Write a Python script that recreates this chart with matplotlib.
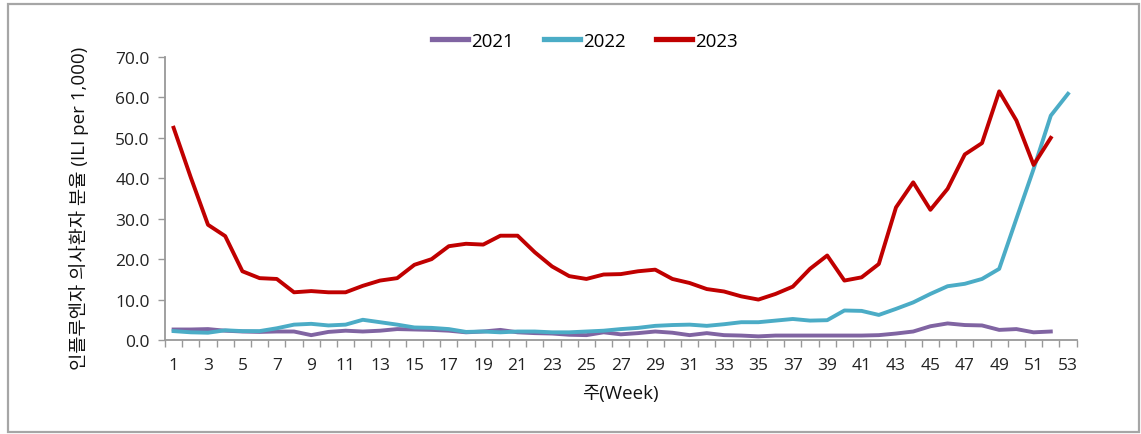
import matplotlib
matplotlib.use("Agg")
import matplotlib.pyplot as plt
from matplotlib.patches import Rectangle
import numpy as np

plt.rcParams['font.family'] = ['Open Sans', 'Noto Sans CJK KR', 'DejaVu Sans']

weeks_2021 = list(range(1, 53))
weeks_2022 = list(range(1, 54))
weeks_2023 = list(range(1, 53))

ili_2021 = [2.6, 2.6, 2.7, 2.3, 2.1, 2.0, 2.1, 2.1, 1.2, 2.0,
            2.3, 2.1, 2.3, 2.7, 2.6, 2.5, 2.3, 1.9, 2.1, 2.5,
            1.9, 1.7, 1.6, 1.3, 1.2, 1.9, 1.4, 1.7, 2.1, 1.8,
            1.2, 1.7, 1.2, 1.1, 0.9, 1.1, 1.1, 1.1, 1.1, 1.1,
            1.1, 1.2, 1.6, 2.1, 3.4, 4.1, 3.7, 3.6, 2.5, 2.7,
            1.9, 2.1]
ili_2022 = [2.2, 1.9, 1.8, 2.4, 2.2, 2.2, 2.9, 3.8, 4.0, 3.6,
            3.8, 5.0, 4.4, 3.8, 3.1, 3.0, 2.7, 2.0, 2.1, 1.9,
            2.1, 2.1, 1.9, 1.9, 2.1, 2.3, 2.7, 3.0, 3.5, 3.7,
            3.8, 3.5, 3.9, 4.4, 4.4, 4.8, 5.2, 4.8, 4.9, 7.3,
            7.2, 6.2, 7.7, 9.3, 11.4, 13.3, 13.9, 15.1, 17.6, 30.0,
            42.3, 55.5, 60.9]
ili_2023 = [52.5, 40.2, 28.5, 25.7, 17.0, 15.3, 15.1, 11.8, 12.1, 11.8,
            11.8, 13.4, 14.7, 15.3, 18.6, 20.0, 23.2, 23.8, 23.6, 25.8,
            25.8, 21.7, 18.2, 15.8, 15.1, 16.2, 16.3, 17.0, 17.4, 15.1,
            14.1, 12.6, 12.0, 10.8, 10.0, 11.4, 13.2, 17.6, 20.9, 14.7,
            15.5, 18.8, 32.8, 39.0, 32.2, 37.4, 45.9, 48.7, 61.5, 54.3,
            43.3, 50.0]

series_labels = ['2021', '2022', '2023']
colors = ['#8064A2', '#4BACC6', '#C00000']

fig = plt.figure(figsize=(11.41, 4.35), dpi=100)
ax = fig.add_axes([165/1141, (435-341)/435, (1076.6-165)/1141, (341-58)/435])

ax.plot(weeks_2021, ili_2021, color=colors[0], lw=2.8, label=series_labels[0], solid_joinstyle='round')
ax.plot(weeks_2022, ili_2022, color=colors[1], lw=2.8, label=series_labels[1], solid_joinstyle='round')
ax.plot(weeks_2023, ili_2023, color=colors[2], lw=2.8, label=series_labels[2], solid_joinstyle='round')

ax.set_xlim(0.5, 53.5)
ax.set_ylim(0, 70)
ax.set_yticks(np.arange(0, 71, 10))
ax.set_yticklabels([f"{v:.1f}" for v in np.arange(0, 71, 10)])
ax.set_xticks(list(range(1, 54, 2)))
ax.set_xticks(np.arange(0.5, 54, 1), minor=True)
ax.tick_params(axis='x', which='major', length=0, pad=12.5, labelsize=12.5, colors='#222222')
ax.tick_params(axis='x', which='minor', length=5, width=1, color='#999999', direction='out')
ax.tick_params(axis='y', which='major', length=5, width=1, color='#999999', labelsize=12.5, pad=6, labelcolor='#222222')

for s in ['top', 'right']:
    ax.spines[s].set_visible(False)
for s in ['left', 'bottom']:
    ax.spines[s].set_color('#999999')
    ax.spines[s].set_linewidth(1.3)

ax.set_ylabel('인플루엔자 의사환자 분율 (ILI per 1,000)', fontsize=13.5, color='#111111')
ax.yaxis.set_label_coords(-0.083, 0.47)
ax.set_xlabel('주(Week)', fontsize=13.5, labelpad=8, color='#111111')

leg = fig.legend(loc='center', bbox_to_anchor=(585/1141, 1 - 42/435), ncol=3, frameon=False,
                 fontsize=13.5, handlelength=1.9, handletextpad=0.2, columnspacing=1.6)
for line in leg.get_lines():
    line.set_linewidth(3.8)

fig.patches.append(Rectangle((7.5/1141, 1 - 433/435), (1139-7.5)/1141, (433-4.5)/435,
                             transform=fig.transFigure, fill=False, edgecolor='#A6A6A6', lw=1.6))

fig.savefig('out.png', dpi=100)
